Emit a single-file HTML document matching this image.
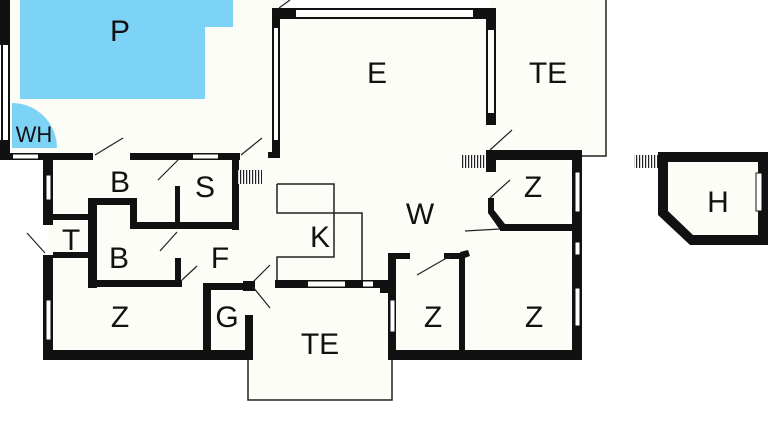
<!DOCTYPE html>
<html><head><meta charset="utf-8"><style>
html,body{margin:0;padding:0;background:#fff;}
svg{display:block;}
text{font-family:"Liberation Sans",sans-serif;fill:#111;}
</style></head><body>
<svg width="768" height="432" viewBox="0 0 768 432" xmlns="http://www.w3.org/2000/svg">
<defs>
<pattern id="st" width="3" height="40" patternUnits="userSpaceOnUse"><rect width="3" height="40" fill="#fff"/><rect width="1.2" height="40" fill="#222"/></pattern>
</defs>
<g fill="#fdfdf7">
<rect x="8" y="0" width="270" height="156"/>
<rect x="278" y="14" width="212" height="270"/>
<rect x="490" y="0" width="116" height="156"/>
<rect x="48" y="156" width="530" height="200"/>
<rect x="248" y="288" width="144" height="112"/>
<polygon points="664,158 762,158 762,240 690,240 664,214"/>
</g>
<polygon points="20,0 233,0 233,27 205,27 205,99 20,99" fill="#7dd3f5"/>
<path d="M12,148 L12,103 A45,45 0 0 1 57,148 Z" fill="#7dd3f5"/>
<g fill="none" stroke="#222" stroke-width="1.5">
<path d="M606,0 V156 H580"/>
<path d="M248,358 V400 H392 V358"/>
<path d="M277,184 H334 V257 H277 V282 M277,184 V213 H362 V282"/>
</g>
<g fill="#111">
<rect x="0" y="0" width="10" height="45"/><rect x="0" y="140" width="10" height="20"/>
<rect x="1" y="45" width="2" height="95"/><rect x="8" y="45" width="2" height="95"/>
<rect x="0" y="153" width="13" height="7"/><rect x="38" y="153" width="55" height="7"/>
<rect x="130" y="153" width="63" height="7"/><rect x="218" y="153" width="22" height="7"/>
<rect x="13" y="153" width="25" height="1.5"/><rect x="13" y="158.5" width="25" height="1.5"/>
<rect x="193" y="153" width="25" height="1.5"/><rect x="193" y="158.5" width="25" height="1.5"/>
<rect x="272" y="8" width="24" height="11"/><rect x="473" y="8" width="23" height="11"/>
<rect x="296" y="8" width="177" height="2"/><rect x="296" y="17" width="177" height="2"/>
<rect x="272" y="8" width="8" height="20"/><rect x="272" y="28" width="2" height="112"/><rect x="278" y="28" width="2" height="112"/>
<rect x="272" y="140" width="8" height="18"/><rect x="268" y="152" width="12" height="6"/>
<rect x="486" y="8" width="10" height="22"/><rect x="486" y="30" width="2" height="83"/><rect x="494" y="30" width="2" height="83"/>
<rect x="486" y="113" width="10" height="12"/>
<rect x="486" y="150" width="96" height="10"/><rect x="486" y="150" width="10" height="22"/>
<rect x="572" y="150" width="10" height="210"/>
<polygon points="488,198 494,198 494,210 505,224 500,230 488,213"/>
<rect x="500" y="224" width="78" height="7"/>
<rect x="388" y="253" width="8" height="107"/><rect x="388" y="253" width="22" height="6"/>
<rect x="444" y="253" width="20" height="6"/><rect x="459" y="253" width="6" height="103"/>
<polygon points="460,252 468,250 470,256 462,259"/>
<rect x="380" y="283" width="16" height="10"/>
<rect x="43" y="350" width="210" height="10"/><rect x="388" y="350" width="194" height="10"/>
<rect x="43" y="155" width="10" height="70"/><rect x="43" y="255" width="10" height="105"/>
<rect x="53" y="214" width="38" height="6"/><rect x="53" y="252" width="38" height="6"/>
<rect x="88" y="198" width="9" height="90"/><rect x="88" y="198" width="49" height="7"/>
<rect x="130" y="198" width="7" height="30"/><rect x="130" y="222" width="108" height="7"/>
<rect x="88" y="280" width="94" height="7"/><rect x="175" y="258" width="6" height="28"/>
<rect x="175" y="186" width="5" height="42"/><rect x="232" y="153" width="7" height="77"/>
<rect x="203" y="283" width="8" height="72"/><rect x="203" y="283" width="40" height="7"/>
<rect x="243" y="281" width="12" height="10"/><rect x="245" y="315" width="8" height="45"/>
<rect x="275" y="280" width="33" height="8"/><rect x="345" y="280" width="18" height="8"/><rect x="373" y="280" width="23" height="8"/>
<rect x="308" y="280" width="37" height="1.5"/><rect x="308" y="286.5" width="37" height="1.5"/>
<rect x="363" y="280" width="10" height="1.5"/><rect x="363" y="286.5" width="10" height="1.5"/>
<polygon points="658,152 768,152 768,245 690,245 658,215" />
</g>
<polygon points="668,162 758,162 758,235 693,235 668,211" fill="#fdfdf7"/>
<g fill="#fff" stroke="#111" stroke-width="1">
<rect x="756" y="173" width="6" height="38"/>
<rect x="46" y="175" width="5" height="25"/>
<rect x="46" y="300" width="5" height="40"/>
<rect x="575" y="172" width="5" height="40"/>
<rect x="575" y="242" width="5" height="13"/>
<rect x="575" y="288" width="5" height="38"/>
<rect x="390" y="300" width="5" height="32"/>
</g>
<rect x="238" y="170" width="24" height="14" fill="url(#st)"/>
<rect x="462" y="155" width="24" height="13" fill="url(#st)"/>
<rect x="634" y="155" width="24" height="13" fill="url(#st)"/>
<g stroke="#222" stroke-width="1.2">
<line x1="95" y1="155" x2="123" y2="138"/><line x1="241" y1="155" x2="262" y2="138"/>
<line x1="158" y1="180" x2="178" y2="160"/><line x1="160" y1="251" x2="177" y2="232"/>
<line x1="182" y1="280" x2="197" y2="266"/><line x1="253" y1="282" x2="270" y2="265"/>
<line x1="253" y1="287" x2="270" y2="308"/><line x1="45" y1="253" x2="27" y2="233"/>
<line x1="279" y1="8" x2="290" y2="0"/><line x1="490" y1="150" x2="512" y2="130"/>
<line x1="490" y1="198" x2="510" y2="180"/><line x1="465" y1="231" x2="500" y2="229"/>
<line x1="417" y1="275" x2="450" y2="256"/>
</g>
<g font-size="30" text-anchor="middle">
<text x="120" y="41">P</text>
<text x="377" y="83">E</text>
<text x="548" y="83">TE</text>
<text x="120" y="192">B</text>
<text x="205" y="197">S</text>
<text x="533" y="197">Z</text>
<text x="718" y="212">H</text>
<text x="420" y="224">W</text>
<text x="320" y="247">K</text>
<text x="71" y="250">T</text>
<text x="119" y="268">B</text>
<text x="220" y="268">F</text>
<text x="120" y="327">Z</text>
<text x="227" y="327">G</text>
<text x="320" y="354">TE</text>
<text x="433" y="327">Z</text>
<text x="534" y="327">Z</text>
</g>
<text x="34" y="142" font-size="22" text-anchor="middle">WH</text>
</svg>
</body></html>
